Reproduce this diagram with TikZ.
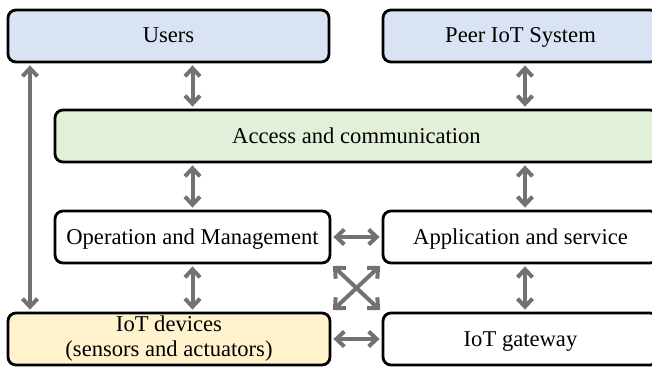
\documentclass[tikz,border=0pt]{standalone}
\usepackage{fontspec}
\setmainfont{Liberation Serif}
\usepackage{tikz}
\usetikzlibrary{arrows.meta}

\definecolor{userblue}{HTML}{DAE3F3}
\definecolor{accessgreen}{HTML}{E2F0D9}
\definecolor{devyellow}{HTML}{FFF2CC}
\definecolor{arrgray}{HTML}{767171}

\begin{document}
\begin{tikzpicture}[x=0.5pt,y=-0.5pt,
    box/.style={draw=black, line width=1.4pt, rounded corners=4pt, fill=white,
      minimum height=26pt, inner sep=0pt, align=center,
      text height=8.5pt, text depth=1.5pt,
      font=\fontsize{11.3}{12.5}\selectfont},
    arr/.style={{Straight Barb[length=4pt,width=7.5pt]}-{Straight Barb[length=4pt,width=7.5pt]},
      line width=2pt, draw=arrgray, shorten <=1pt, shorten >=1pt}]
      \useasboundingbox (0,0) rectangle (652,369);
      \begin{scope}
      \clip (0,0) rectangle (652,369);
      \node[box, fill=userblue, minimum width=160.5pt] (users) at (168.5,36) {Users};
      \node[box, fill=userblue, minimum width=137.5pt] (peer) at (520.5,36) {Peer IoT System};
      \node[box, fill=accessgreen, minimum width=301.5pt] (access) at (356.5,136) {Access and communication};
      \node[box, minimum width=137.5pt] (op) at (192.5,237) {Operation and Management};
      \node[box, minimum width=137.5pt] (app) at (520.5,237) {Application and service};
      \node[box, fill=devyellow, minimum width=161pt, text height=, text depth=] (dev) at (169,339) {IoT devices\\(sensors and actuators)};
      \node[box, minimum width=137.5pt] (gw) at (520.5,339) {IoT gateway};
      \end{scope}
      \coordinate (lcol) at (30,0);
      \coordinate (rcol) at (525,0);
      % vertical links
      \draw[arr] (users.south -| op.south) -- (access.north -| op.south);
      \draw[arr] (peer.south -| rcol) -- (access.north -| rcol);
      \draw[arr] (access.south -| op.south) -- (op.north);
      \draw[arr] (access.south -| rcol) -- (app.north -| rcol);
      \draw[arr] (op.south) -- (dev.north -| op.south);
      \draw[arr] (app.south -| rcol) -- (gw.north -| rcol);
      \draw[arr] (users.south -| lcol) -- (dev.north -| lcol);
      % horizontal and crossing links
      \draw[arr] (op.east) -- (app.west);
      \draw[arr] (dev.east) -- (gw.west);
      \draw[arr] (op.south east) -- (gw.north west);
      \draw[arr] (app.south west) -- (dev.north east);
\end{tikzpicture}
\end{document}
